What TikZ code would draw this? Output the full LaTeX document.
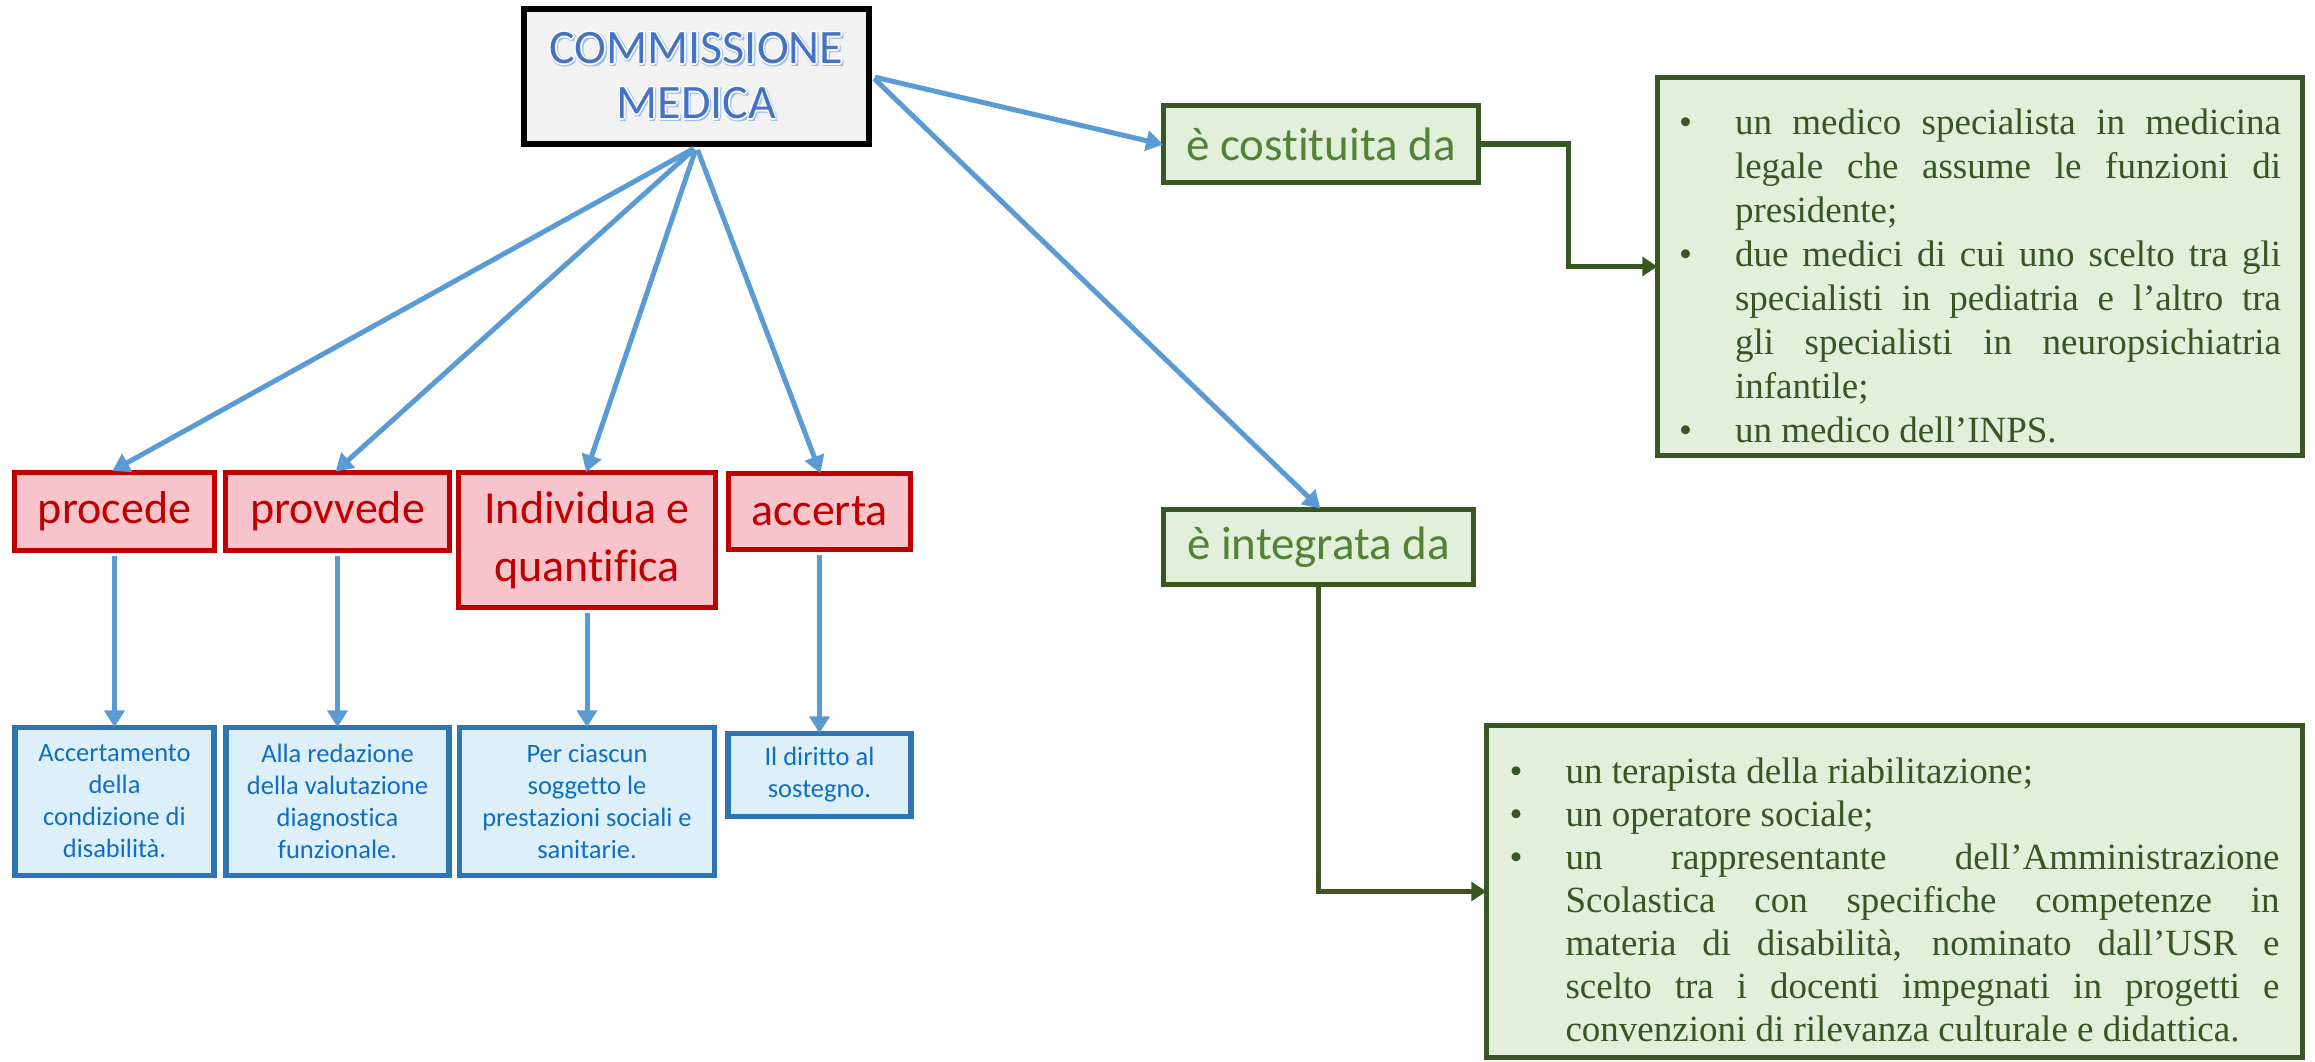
\documentclass[tikz,border=0pt]{standalone}
\usepackage{fontspec}
\setmainfont{Liberation Serif}
\newfontfamily\calibri[Ligatures=NoCommon]{Carlito}
\usetikzlibrary{arrows.meta}

\definecolor{titleblue}{HTML}{4472C4}
\definecolor{titleshadow}{HTML}{9DBDE8}
\definecolor{boxgrey}{HTML}{F2F2F2}
\definecolor{redline}{HTML}{C00000}
\definecolor{redfill}{HTML}{F7C4CB}
\definecolor{blueline}{HTML}{2E75B6}
\definecolor{bluefill}{HTML}{DDF0FA}
\definecolor{bluetext}{HTML}{0F6EC1}
\definecolor{arrowblue}{HTML}{5B9BD5}
\definecolor{greenline}{HTML}{385723}
\definecolor{greenfill}{HTML}{E2EFDA}
\definecolor{greentext}{HTML}{548235}
\definecolor{bullettext}{HTML}{375623}

% outlined title lettering: pale shadow, white rim, blue face
\newcommand\glowtext[1]{\leavevmode
  \rlap{\kern2.2pt\raisebox{-2.2pt}{\textcolor{titleshadow}{#1}}}%
  \rlap{\kern2.4pt\textcolor{titleshadow}{#1}}%
  \rlap{\raisebox{-2.4pt}{\textcolor{titleshadow}{#1}}}%
  \rlap{\kern-1.4pt\textcolor{white}{#1}}%
  \rlap{\kern1.4pt\textcolor{white}{#1}}%
  \rlap{\raisebox{1.4pt}{\textcolor{white}{#1}}}%
  \rlap{\raisebox{-1.4pt}{\textcolor{white}{#1}}}%
  \rlap{\kern1pt\raisebox{1pt}{\textcolor{white}{#1}}}%
  \rlap{\kern-1pt\raisebox{1pt}{\textcolor{white}{#1}}}%
  \rlap{\kern1pt\raisebox{-1pt}{\textcolor{white}{#1}}}%
  \rlap{\kern-1pt\raisebox{-1pt}{\textcolor{white}{#1}}}%
  \textcolor{titleblue}{#1}}

% bullet item with hanging indent
\newcommand\bitem[1]{\par\noindent\hangindent=56pt\hangafter=1
  \makebox[56pt][l]{•}#1\par}

\tikzset{
  titlebox/.style={draw=black, fill=boxgrey, line width=6pt, align=center,
    inner sep=0pt, font=\calibri\fontsize{48}{55}\selectfont},
  redbox/.style={draw=redline, fill=redfill, line width=5.5pt, text=redline,
    align=center, inner sep=0pt, font=\calibri\fontsize{46}{58}\selectfont},
  bluebox/.style={draw=blueline, fill=bluefill, line width=5.5pt, text=bluetext,
    align=center, inner sep=0pt, font=\calibri\fontsize{26.5}{32}\selectfont},
  greenlabel/.style={draw=greenline, fill=greenfill, line width=5.5pt, text=greentext,
    inner sep=0pt, font=\calibri\fontsize{47}{56}\selectfont},
  greenlist/.style={draw=greenline, fill=greenfill, line width=5.5pt, text=bullettext,
    align=justify, inner ysep=0pt},
  blarrow/.style={draw=arrowblue, line width=5pt,
    -{Triangle[length=17pt,width=20pt]}, shorten <=3pt, shorten >=-2.5pt},
  grarrow/.style={draw=greenline, line width=5.5pt,
    -{Triangle[length=15pt,width=19pt]}, shorten >=-2.5pt},
}

\begin{document}
\begin{tikzpicture}[x=1pt,y=-1pt]
\useasboundingbox (0,0) rectangle (2315,1061);

% main concept
\node[titlebox, minimum width=345pt, minimum height=135pt] (cm) at (696.5,76.5)
  {\glowtext{COMMISSIONE}\\\glowtext{MEDICA}};

% actions
\node[redbox, minimum width=200pt, minimum height=78pt] (proc) at (114.5,511.5) {procede};
\node[redbox, minimum width=224pt, minimum height=78pt] (provv) at (337.5,511.5) {provvede};
\node[redbox, minimum width=257pt, minimum height=135pt] (indiv) at (587,540) {Individua e\\quantifica};
\node[redbox, minimum width=182pt, minimum height=76pt] (acc) at (819.5,511.5) {accerta};

% objects of the actions
\node[bluebox, minimum width=199pt, minimum height=148pt] (b1) at (114.5,801.5)
  {Accertamento\\della\\condizione di\\disabilità.};
\node[bluebox, minimum width=223pt, minimum height=148pt] (b2) at (337.5,801.5)
  {Alla redazione\\della valutazione\\diagnostica\\funzionale.};
\node[bluebox, minimum width=255pt, minimum height=148pt] (b3) at (587,801.5)
  {Per ciascun\\soggetto le\\prestazioni sociali e\\sanitarie.};
\node[bluebox, minimum width=183pt, minimum height=83pt] (b4) at (819.5,775)
  {Il diritto al\\sostegno.};

% composition
\node[greenlabel, minimum width=315pt, minimum height=77pt] (cost) at (1321,144) {è costituita da};
\node[greenlabel, minimum width=310pt, minimum height=75pt] (integ) at (1318.5,547) {è integrata da};

\node[greenlist, text width=602pt, minimum width=645pt, minimum height=378pt,
  font=\fontsize{37}{44}\selectfont] (list1) at (1980,266.5) {%
  \bitem{un medico specialista in medicina\linebreak
    legale che assume le funzioni di\linebreak presidente;}%
  \bitem{due medici di cui uno scelto tra gli\linebreak
    specialisti in pediatria e l’altro tra\linebreak
    gli specialisti in neuropsichiatria\linebreak infantile;}%
  \bitem{un medico dell’INPS.}};

\node[greenlist, text width=770pt, minimum width=816pt, minimum height=332pt,
  font=\fontsize{37}{43}\selectfont] (list2) at (1894.5,891.5) {%
  \bitem{un terapista della riabilitazione;}%
  \bitem{un operatore sociale;}%
  \bitem{un rappresentante dell’Amministrazione\linebreak
    Scolastica con specifiche competenze in\linebreak
    materia di disabilità, nominato dall’USR e\linebreak
    scelto tra i docenti impegnati in progetti e\linebreak
    convenzioni di rilevanza culturale e didattica.}};

% connectors
\draw[blarrow] (cm.south) -- (proc.north);
\draw[blarrow] (cm.south) -- (provv.north);
\draw[blarrow] (cm.south) -- (indiv.north);
\draw[blarrow] (cm.south) -- (acc.north);
\draw[blarrow] (cm.east) -- (cost.west);
\draw[blarrow] (cm.east) -- (integ.north);

\draw[blarrow, shorten <=2.5pt] (proc.south) -- (proc.south |- b1.north);
\draw[blarrow, shorten <=2.5pt] (provv.south) -- (provv.south |- b2.north);
\draw[blarrow, shorten <=2.5pt] (indiv.south) -- (indiv.south |- b3.north);
\draw[blarrow, shorten <=2.5pt] (acc.south) -- (acc.south |- b4.north);

\draw[grarrow] (cost.east) -- ++(87,0) |- (list1.west);
\draw[grarrow] (integ.south) |- (list2.west);
\end{tikzpicture}
\end{document}
